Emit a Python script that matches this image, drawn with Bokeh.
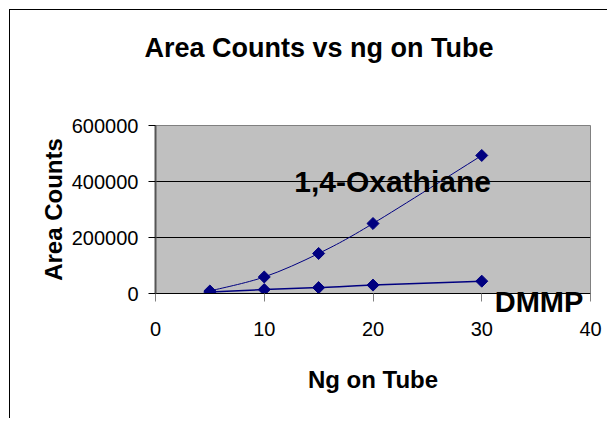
import numpy as np
from bokeh.plotting import figure
from bokeh.models import Label, FixedTicker, Range1d, NumeralTickFormatter
from bokeh.embed import file_html
from bokeh.resources import INLINE

# ---- data ----
ng_on_tube = [5, 10, 15, 20, 30]
oxathiane_counts = [9000, 59000, 143000, 250000, 493000]
dmmp_counts = [5000, 14000, 21000, 30000, 44000]
x_ticks = [0, 10, 20, 30, 40]
y_ticks = [0, 200000, 400000, 600000]
grid_ticks = [200000, 400000]
series_names = ["1,4-Oxathiane", "DMMP"]
chart_title = "Area Counts vs ng on Tube"
x_title = "Ng on Tube"
y_title = "Area Counts"

NAVY = "#000080"
SANS = "Liberation Sans"


def smooth_segments(xs, ys):
    """Cubic Bezier control points (Catmull-Rom, Excel style smoothing)."""
    x = np.asarray(xs, float)
    y = np.asarray(ys, float)
    n = len(x)
    xp = np.concatenate([[x[0]], x, [x[-1]]])
    yp = np.concatenate([[y[0]], y, [y[-1]]])
    cx0 = x[:-1] + (xp[2:n + 1] - xp[0:n - 1]) / 6.0
    cy0 = y[:-1] + (yp[2:n + 1] - yp[0:n - 1]) / 6.0
    cx1 = x[1:] - (xp[3:n + 2] - xp[1:n]) / 6.0
    cy1 = y[1:] - (yp[3:n + 2] - yp[1:n]) / 6.0
    return dict(x0=x[:-1], y0=y[:-1], x1=x[1:], y1=y[1:],
                cx0=cx0, cy0=cy0, cx1=cx1, cy1=cy1)


p = figure(width=598, height=409, output_backend="svg", toolbar_location=None,
           x_range=Range1d(0, 40), y_range=Range1d(0, 600000),
           min_border_left=145, min_border_right=18,
           min_border_top=115, min_border_bottom=126)
p.styles = {"border-left": "1px solid black", "border-top": "1px solid black",
            "margin-left": "9px", "margin-top": "9px"}

p.background_fill_color = "#C0C0C0"
p.border_fill_color = "white"
p.outline_line_color = "#808080"
p.outline_line_width = 1
p.title.text = ""

# axes
p.xaxis.ticker = FixedTicker(ticks=x_ticks)
p.yaxis.ticker = FixedTicker(ticks=y_ticks)
p.yaxis.formatter = NumeralTickFormatter(format="0")
p.xaxis.axis_line_color = "black"
p.xaxis.major_tick_line_color = "#808080"
p.xaxis.major_tick_out = 8
p.xaxis.major_tick_in = 0
p.xaxis.minor_tick_line_color = None
p.xaxis.major_label_standoff = 20
p.yaxis.axis_line_color = "#555555"
p.yaxis.axis_line_width = 2
p.yaxis.major_tick_line_color = "black"
p.yaxis.major_tick_out = 7
p.yaxis.major_tick_in = 0
p.yaxis.minor_tick_line_color = None
p.yaxis.major_label_standoff = 10
for ax in (p.xaxis, p.yaxis):
    ax.major_label_text_font = SANS
    ax.major_label_text_font_size = "20px"
    ax.major_label_text_color = "black"
    ax.axis_label_text_font = SANS
    ax.axis_label_text_font_style = "bold"
    ax.axis_label_text_color = "black"
p.xaxis.axis_label = x_title
p.xaxis.axis_label_text_font_size = "24px"
p.xaxis.axis_label_standoff = 27
p.yaxis.axis_label = y_title
p.yaxis.axis_label_text_font_size = "24px"
p.yaxis.axis_label_standoff = 2

p.xgrid.visible = False
p.ygrid.ticker = FixedTicker(ticks=grid_ticks)
p.ygrid.grid_line_color = "black"
p.ygrid.grid_line_width = 1

# series
for counts, lw in ((oxathiane_counts, 1), (dmmp_counts, 1.5)):
    seg = smooth_segments(ng_on_tube, counts)
    p.bezier(x0=seg["x0"], y0=seg["y0"], x1=seg["x1"], y1=seg["y1"],
             cx0=seg["cx0"], cy0=seg["cy0"], cx1=seg["cx1"], cy1=seg["cy1"],
             line_color=NAVY, line_width=lw)
for counts in (oxathiane_counts, dmmp_counts):
    p.scatter(ng_on_tube, counts, marker="square", angle=np.pi / 4, size=8.5,
              fill_color=NAVY, line_color=NAVY)

# series name labels
p.add_layout(Label(x=21.8, y=400000, text=series_names[0], text_align="center",
                   text_baseline="middle", text_font=SANS,
                   text_font_style="bold", text_font_size="30px", text_color="black"))
# texts outside the frame live in a side panel (canvas units, not clipped)
p.add_layout(Label(x=527.5, y=290, x_units="canvas", y_units="canvas",
                   text=series_names[1], text_align="center",
                   text_baseline="middle", text_font=SANS,
                   text_font_style="bold", text_font_size="29px", text_color="black"),
             "above")
p.add_layout(Label(x=307.5, y=36, x_units="canvas", y_units="canvas",
                   text=chart_title, text_align="center",
                   text_baseline="middle", text_font=SANS,
                   text_font_style="bold", text_font_size="27px", text_color="black"),
             "above")

open("out.html", "w").write(file_html(p, INLINE))
